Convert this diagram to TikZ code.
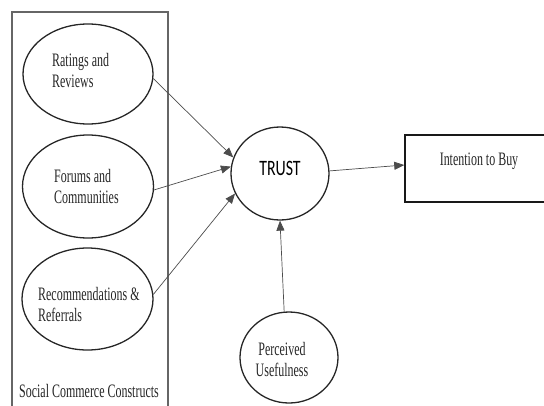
\documentclass[tikz,border=0pt]{standalone}
\usepackage{fontspec}
\setmainfont{Liberation Serif}[FakeStretch=0.63]
\newfontfamily\trustfont{Carlito}[FakeStretch=0.72]
\usetikzlibrary{arrows.meta, shapes.geometric}

\begin{document}
\begin{tikzpicture}[x=1pt, y=-1pt]
  \colorlet{linecol}{black!85}
  \colorlet{arrcol}{black!70}
  \colorlet{framecol}{black!60}
  \tikzset{
    construct/.style={ellipse, draw=linecol, line width=1.3pt, inner sep=0pt,
      minimum width=#1},
    construct/.default=130pt,
    lbl/.style={font=\fontsize{19}{21}\selectfont, inner sep=0pt, text=black!85},
    framebox/.style={rectangle, draw=framecol, line width=1.2pt, inner sep=0pt},
    outbox/.style={rectangle, draw=black!90, line width=1.5pt, inner sep=0pt,
      minimum width=148pt, minimum height=67pt},
    arr/.style={-{Triangle[length=10pt, width=8pt]}, line width=0.7pt, color=arrcol}
  }
  \useasboundingbox (0,0) rectangle (544,405);
  \clip (0,0) rectangle (544,405);
  \node[framebox, minimum width=156pt, minimum height=403pt] (group) at (90,213.5) {};
  \node[construct, minimum height=100pt] (rating) at (88,74) {};
  \node[construct=131pt, minimum height=103pt] (forum) at (88,186.5) {};
  \node[construct=131pt, minimum height=102pt] (recom) at (87.5,299) {};
  \node[construct=98pt, minimum height=93pt, font=\trustfont\fontsize{22}{24}\selectfont,
    text height=16pt, text depth=13pt] (trust) at (280,173.5) {TRUST};
  \node[construct=98pt, minimum height=91pt] (useful) at (289,357.5) {};
  \node[outbox, lbl, text height=10pt, text depth=17pt] (intent) at (479,168.5) {Intention to Buy};
  \node[lbl, anchor=base west, align=left] (ratingtxt) at (52,87) {Ratings and\\Reviews};
  \node[lbl, anchor=base west, align=left] (forumtxt) at (54,203) {Forums and\\Communities};
  \node[lbl, anchor=base west, align=left] (recomtxt) at (38,321) {Recommendations \&\\Referrals};
  \node[lbl, anchor=base, align=center] (usefultxt) at (282,376) {Perceived\\Usefulness};
  \node[lbl, anchor=base] (grouptxt) at (89,397) {Social Commerce Constructs};
  \draw[arr] (rating.-4) -- (trust.161);
  \draw[arr] (forum.-3) -- (trust.172);
  \draw[arr] (recom.4) -- (trust.-156);
  \draw[arr] (trust.3) -- ([yshift=3.5pt]intent.west);
  \draw[arr] (useful.96) -- (trust.south);
\end{tikzpicture}
\end{document}
